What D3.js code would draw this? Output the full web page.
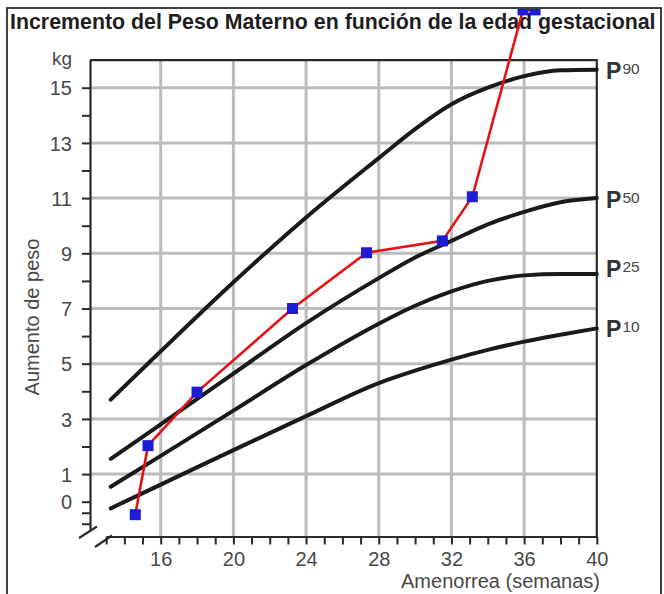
<!DOCTYPE html>
<html>
<head>
<meta charset="utf-8">
<script src="https://cdn.jsdelivr.net/npm/d3@7"></script>
<style>
  html, body { margin: 0; padding: 0; background: #fff; }
  svg { display: block; }
</style>
</head>
<body>
<svg id="chart" width="664" height="594"></svg>
<script>
// Reference percentile curves (weeks of amenorrhea vs. weight gain in kg)
const curveWeeks = [13.25, 16, 20, 24, 28, 30, 32, 34, 36, 38, 40];
const p90 = [3.7, 5.45, 7.95, 10.3, 12.45, 13.5, 14.4, 15.0, 15.42, 15.63, 15.65];
const p50 = [1.55, 2.8, 4.64, 6.47, 8.1, 8.85, 9.45, 10.05, 10.5, 10.85, 11.0];
const p25 = [0.54, 1.66, 3.3, 4.95, 6.45, 7.1, 7.62, 8.0, 8.2, 8.25, 8.25];
const p10 = [-0.24, 0.62, 1.87, 3.1, 4.3, 4.75, 5.15, 5.5, 5.8, 6.05, 6.28];

// Recorded weight gain of the patient
const obsWeeks = [14.6, 15.3, 18.0, 23.25, 27.33, 31.5, 33.15, 35.94, 36.6];
const obsGain = [-0.47, 2.03, 3.97, 7.0, 9.02, 9.45, 11.05, 17.82, 17.82];

// Axis ticks and labels
const xTicks = d3.range(13, 41);
const xLabels = [16, 20, 24, 28, 32, 36, 40];
const yTicks = [-0.8, -0.4].concat(d3.range(0, 16));
const yLabels = [0, 1, 3, 5, 7, 9, 11, 13, 15];
const xGrid = [16, 20, 24, 28, 32, 36];
const yGrid = [1, 3, 5, 7, 9, 11, 13, 15];

const percentileNames = ["90", "50", "25", "10"];
const percentileSeries = [p90, p50, p25, p10];
const percentileLabelKg = [15.32, 10.63, 8.13, 5.97];

const svg = d3.select("#chart");

const x = d3.scaleLinear().domain([13, 40]).range([106.2, 596.8]);
const y = d3.scaleLinear().domain([-1, 16]).range([529.3, 60.1]);
const axisY = 536.5;
const textGray = "#484848";

// Title, condensed horizontally to fill the header band
const titleG = svg.append("g");
const title = titleG.append("text")
  .attr("x", 0).attr("y", 0)
  .style("font-family", "'Liberation Sans Narrow', 'Arial Narrow', 'Liberation Sans', Arial, sans-serif")
  .style("font-weight", "bold").style("font-size", "22px").style("fill", "#1e1e1e")
  .text("Incremento del Peso Materno en función de la edad gestacional");
const titleW = title.node().getComputedTextLength();
titleG.attr("transform", `translate(10,29) scale(${646 / titleW},1)`);

// Grid
const grid = svg.append("g");
grid.selectAll("line.vg").data(xGrid).join("line")
  .attr("x1", d => x(d)).attr("x2", d => x(d))
  .attr("y1", y(16)).attr("y2", axisY)
  .attr("stroke", "#bcbcbc").attr("stroke-width", 3);
grid.selectAll("line.hg").data(yGrid).join("line")
  .attr("x1", 90).attr("x2", x(40))
  .attr("y1", d => y(d)).attr("y2", d => y(d))
  .attr("stroke", "#bcbcbc").attr("stroke-width", 3);

// Frame (top and right)
svg.append("path")
  .attr("d", `M90,${y(16)}H${x(40)}V${axisY}`)
  .attr("fill", "none").attr("stroke", "#2a2a2a").attr("stroke-width", 2.2);

// Y axis
const yAxis = d3.axisLeft(y).tickValues(yTicks).tickSize(8).tickSizeOuter(0)
  .tickFormat(d => yLabels.includes(d) ? d : "");
const gy = svg.append("g").attr("transform", "translate(90,0)").call(yAxis);
gy.select(".domain").attr("stroke", "#2a2a2a").attr("stroke-width", 2.2);
gy.selectAll(".tick line").attr("stroke", "#2a2a2a").attr("stroke-width", 2);
gy.selectAll(".tick text")
  .attr("x", -18).attr("dy", "0.36em")
  .style("font-family", "'Liberation Sans', Arial, sans-serif").style("font-size", "20px")
  .style("fill", textGray);

svg.append("text")
  .attr("x", 72).attr("y", 65).attr("text-anchor", "end")
  .style("font-family", "'Liberation Sans', Arial, sans-serif").style("font-size", "19px")
  .style("fill", textGray).text("kg");

svg.append("text")
  .attr("transform", "translate(39,317) rotate(-90)")
  .attr("text-anchor", "middle")
  .style("font-family", "'Liberation Sans', Arial, sans-serif").style("font-size", "20px")
  .style("fill", textGray).text("Aumento de peso");

// X axis
const xAxis = d3.axisBottom(x).tickValues(xTicks).tickSize(8).tickSizeOuter(0)
  .tickFormat(d => xLabels.includes(d) ? d : "");
const gx = svg.append("g").attr("transform", `translate(0,${axisY})`).call(xAxis);
gx.select(".domain").attr("stroke", "#2a2a2a").attr("stroke-width", 2.2);
gx.selectAll(".tick line").attr("stroke", "#2a2a2a").attr("stroke-width", 2);
gx.selectAll(".tick text")
  .attr("y", 15).attr("dy", "0.71em")
  .style("font-family", "'Liberation Sans', Arial, sans-serif").style("font-size", "20px")
  .style("fill", textGray);

svg.append("text")
  .attr("x", 600).attr("y", 588).attr("text-anchor", "end")
  .style("font-family", "'Liberation Sans', Arial, sans-serif").style("font-size", "20px")
  .style("fill", textGray).text("Amenorrea (semanas)");

// Axis break marks
const brk = svg.append("g").attr("stroke", "#2a2a2a").attr("stroke-width", 2.2);
brk.append("line").attr("x1", 79).attr("y1", 538).attr("x2", 97).attr("y2", 526.5);
brk.append("line").attr("x1", 95).attr("y1", 547).attr("x2", 112).attr("y2", 535.5);

// Percentile curves
const curveLine = d3.line()
  .x((d, i) => x(curveWeeks[i]))
  .y(d => y(d))
  .curve(d3.curveMonotoneX);
svg.append("g").selectAll("path").data(percentileSeries).join("path")
  .attr("d", d => curveLine(d))
  .attr("fill", "none").attr("stroke", "#1a1a1a")
  .attr("stroke-width", 4).attr("stroke-linecap", "round");

// Percentile labels
const pl = svg.append("g").style("font-family", "'Liberation Sans', Arial, sans-serif");
percentileNames.forEach((name, i) => {
  const by = y(percentileLabelKg[i]);
  pl.append("text").attr("x", 606).attr("y", by)
    .style("font-size", "23px").style("font-weight", "bold").style("fill", "#333")
    .text("P");
  pl.append("text").attr("x", 622.5).attr("y", by - 5)
    .style("font-size", "15.5px").style("fill", "#444")
    .text(name);
});

// Patient series, clipped to the outer border
svg.append("clipPath").attr("id", "inner")
  .append("rect").attr("x", 8).attr("y", 9).attr("width", 652).attr("height", 590);
const obs = svg.append("g").attr("clip-path", "url(#inner)");
const obsLine = d3.line().x((d, i) => x(obsWeeks[i])).y(d => y(d));
obs.append("path")
  .attr("d", obsLine(obsGain))
  .attr("fill", "none").attr("stroke", "#e31313").attr("stroke-width", 2.6);
obs.selectAll("rect").data(obsGain).join("rect")
  .attr("x", (d, i) => x(obsWeeks[i]) - 5.5)
  .attr("y", d => y(d) - 5.5)
  .attr("width", 11).attr("height", 11)
  .attr("fill", "#1c1cd4");

// Outer border
svg.append("rect")
  .attr("x", 7).attr("y", 8).attr("width", 654).attr("height", 600)
  .attr("fill", "none").attr("stroke", "#111").attr("stroke-width", 1.6);
</script>
</body>
</html>
